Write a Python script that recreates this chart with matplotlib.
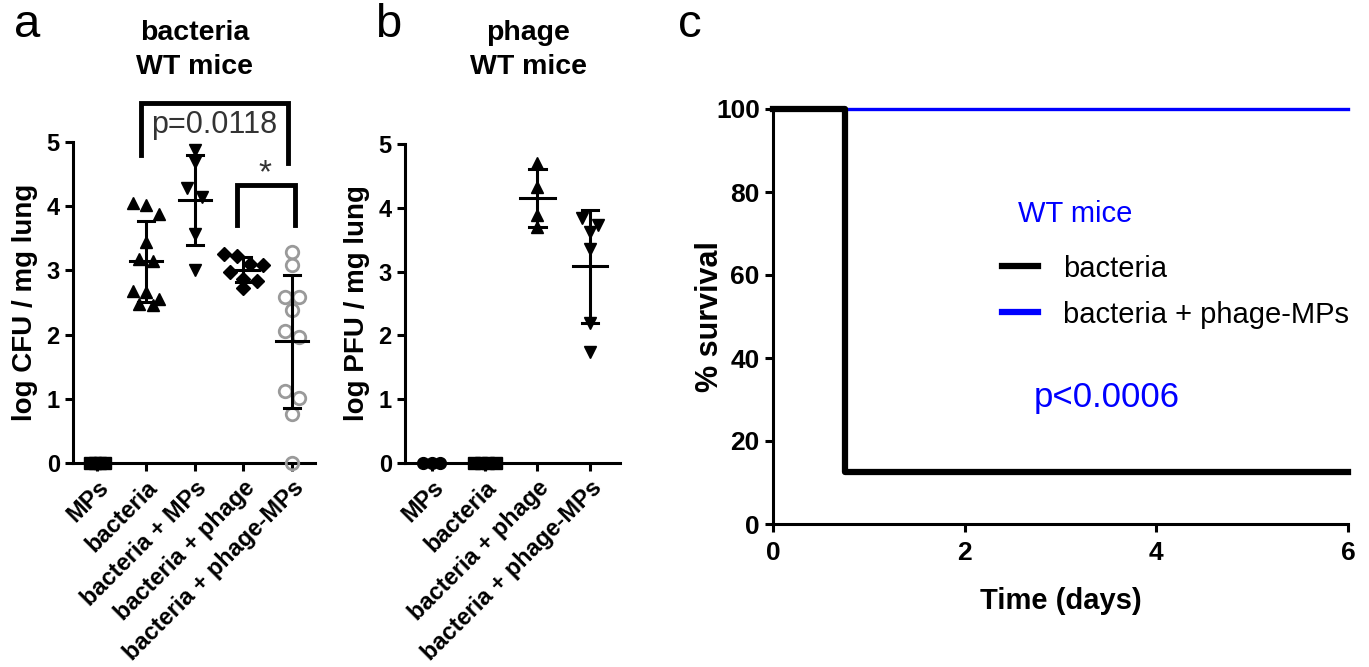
import numpy as np
import matplotlib
matplotlib.use("Agg")
import matplotlib.pyplot as plt
from matplotlib.lines import Line2D

plt.rcParams['font.family'] = ['Liberation Sans', 'DejaVu Sans']

# panel a: log CFU / mg lung, bacteria in WT mice
cfu_groups = ['MPs', 'bacteria', 'bacteria + MPs', 'bacteria + phage', 'bacteria + phage-MPs']
cfu_mps = [0, 0, 0, 0]
cfu_bact = [4.05, 4.02, 3.88, 3.45, 3.17, 3.14, 2.68, 2.66, 2.55, 2.48, 2.46]
cfu_bact_mps = [4.88, 4.69, 4.28, 4.15, 3.57, 3.0]
cfu_bact_phage = [3.26, 3.23, 3.10, 3.08, 2.98, 2.86, 2.84, 2.72]
cfu_bact_phage_mps = [3.29, 3.08, 2.58, 2.58, 2.38, 2.06, 1.96, 1.12, 1.02, 0.76, 0.0]

# panel b: log PFU / mg lung, phage in WT mice
pfu_groups = ['MPs', 'bacteria', 'bacteria + phage', 'bacteria + phage-MPs']
pfu_mps = [0, 0, 0]
pfu_bact = [0, 0, 0, 0]
pfu_bact_phage = [4.70, 4.33, 3.89, 3.70]
pfu_bact_phage_mps = [3.84, 3.73, 3.62, 3.36, 2.19, 1.74]

# panel c: survival
surv_days_bact = [0, 0.75, 6]
surv_pct_bact = [100, 12.5, 12.5]
surv_days_pmps = [0, 6]
surv_pct_pmps = [100, 100]

W, H = 1369, 667
fig = plt.figure(figsize=(W / 100, H / 100), dpi=100)


def swarm(vals, h, w):
    # centre points that sit at about the same height in one row
    v = sorted(vals, reverse=True)
    xs, ys = [], []
    i = 0
    while i < len(v):
        j = i
        while j + 1 < len(v) and v[i] - v[j + 1] < h:
            j += 1
        n = j - i + 1
        for k in range(n):
            xs.append((k - (n - 1) / 2) * w)
            ys.append(v[i + k])
        i = j + 1
    return np.array(xs), np.array(ys)


def style_axes(ax, xsize=17, ysize=17):
    for s in ['top', 'right']:
        ax.spines[s].set_visible(False)
    for s in ['left', 'bottom']:
        ax.spines[s].set_linewidth(2.2)
    ax.tick_params(width=2.2, length=6)
    ax.tick_params(axis='x', labelsize=xsize)
    ax.tick_params(axis='y', labelsize=ysize)
    for lab in ax.get_yticklabels() + ax.get_xticklabels():
        lab.set_fontweight('bold')


def dot_panel(ax, groups, specs, ylabel):
    for i, (vals, st) in enumerate(specs):
        dx, yy = swarm(vals, 0.18, st['w'])
        ax.plot(i + dx, yy, linestyle='none', marker=st['m'], ms=st['ms'],
                mfc=st['fc'], mec=st['ec'], mew=st.get('mew', 1), clip_on=False, zorder=3)
        if st.get('bar', True):
            mu = np.mean(vals)
            sd = np.std(vals, ddof=1)
            ax.plot([i, i], [mu - sd, mu + sd], color='black', lw=2.2, zorder=4, solid_capstyle='butt')
            ax.plot([i - st['mw'], i + st['mw']], [mu, mu], color='black', lw=2.2, zorder=4)
            for y in (mu - sd, mu + sd):
                ax.plot([i - st['cw'], i + st['cw']], [y, y], color='black', lw=2.2, zorder=4)
    ax.set_ylim(0, 5)
    ax.set_yticks([0, 1, 2, 3, 4, 5])
    ax.set_xticks(range(len(groups)))
    ax.set_xticklabels(groups, rotation=45, ha='right', rotation_mode='anchor')
    ax.set_ylabel(ylabel, fontsize=20, fontweight='bold', labelpad=6)
    style_axes(ax)


blk = dict(fc='black', ec='black')

# ---- panel a
axA = fig.add_axes([73 / W, 1 - 463 / H, (315 - 73) / W, (463 - 142) / H])
specsA = [
    (cfu_mps, dict(m='s', ms=8.5, w=0.1, bar=False, **blk)),
    (cfu_bact, dict(m='^', ms=9, w=0.27, mw=0.33, cw=0.16, **blk)),
    (cfu_bact_mps, dict(m='v', ms=9, w=0.3, mw=0.33, cw=0.16, **blk)),
    (cfu_bact_phage, dict(m='D', ms=7.5, w=0.27, mw=0.33, cw=0.16, **blk)),
    (cfu_bact_phage_mps, dict(m='o', ms=9, w=0.3, mw=0.33, cw=0.16, fc='none', ec='#9a9a9a', mew=2)),
]
dot_panel(axA, cfu_groups, specsA, 'log CFU / mg lung')
axA.set_xlim(-0.5, 4.47)

# significance brackets
axA.plot([0.9, 0.9, 3.92, 3.92], [4.8, 5.6, 5.6, 4.67], color='black', lw=3.5, clip_on=False,
         solid_joinstyle='miter')
axA.text(2.4, 5.27, 'p=0.0118', ha='center', va='center', fontsize=22, color='#333333')
axA.plot([2.87, 2.87, 4.06, 4.06], [3.7, 4.33, 4.33, 3.7], color='black', lw=3.5, clip_on=False,
         solid_joinstyle='miter')
axA.text(3.45, 4.5, '*', ha='center', va='center', fontsize=24, color='#333333')

fig.text(27 / W, 1 - 25 / H, 'a', fontsize=34, ha='center', va='center')
fig.text(195 / W, 1 - 50 / H, 'bacteria\nWT mice', fontsize=20.5, fontweight='bold',
         ha='center', va='center', linespacing=1.45)

# ---- panel b
axB = fig.add_axes([405 / W, 1 - 463 / H, (620 - 405) / W, (463 - 144) / H])
specsB = [
    (pfu_mps, dict(m='o', ms=8.5, w=0.16, bar=False, **blk)),
    (pfu_bact, dict(m='s', ms=8.5, w=0.14, bar=False, **blk)),
    (pfu_bact_phage, dict(m='^', ms=9, w=0.3, mw=0.33, cw=0.16, **blk)),
    (pfu_bact_phage_mps, dict(m='v', ms=9, w=0.3, mw=0.33, cw=0.16, **blk)),
]
dot_panel(axB, pfu_groups, specsB, 'log PFU / mg lung')
axB.set_xlim(-0.51, 3.57)

fig.text(388 / W, 1 - 25 / H, 'b', fontsize=34, ha='center', va='center')
fig.text(528 / W, 1 - 50 / H, 'phage\nWT mice', fontsize=20.5, fontweight='bold',
         ha='center', va='center', linespacing=1.45)

# ---- panel c
axC = fig.add_axes([773 / W, 1 - 524 / H, (1348 - 773) / W, (524 - 109) / H])
axC.step(surv_days_pmps, surv_pct_pmps, where='post', color='#0000ff', lw=2.4,
         clip_on=False, zorder=2)
axC.step(surv_days_bact, surv_pct_bact, where='post', color='black', lw=4.5,
         clip_on=False, zorder=3)
axC.set_xlim(0, 6)
axC.set_ylim(0, 100)
axC.set_xticks([0, 2, 4, 6])
axC.set_yticks([0, 20, 40, 60, 80, 100])
style_axes(axC, xsize=19, ysize=19)
axC.tick_params(axis='x', pad=6)
axC.set_xlabel('Time (days)', fontsize=21, fontweight='bold', labelpad=16)
axC.set_ylabel('% survival', fontsize=22, fontweight='bold')
axC.yaxis.set_label_coords(-0.083, 0.5)
handles = [Line2D([], [], color='black', lw=4.5), Line2D([], [], color='#0000ff', lw=4.5)]
axC.legend(handles, ['bacteria', 'bacteria + phage-MPs'], loc='center left',
           bbox_to_anchor=(0.398, 0.56), frameon=False, fontsize=21, handlelength=1.25,
           handletextpad=0.85, labelspacing=0.62, borderaxespad=0, borderpad=0)
axC.text(0.525, 0.747, 'WT mice', transform=axC.transAxes, fontsize=21, color='#0000ff',
         ha='center', va='center')
axC.text(0.581, 0.304, 'p<0.0006', transform=axC.transAxes, fontsize=25, color='#0000ff',
         ha='center', va='center')
fig.text(690 / W, 1 - 25 / H, 'c', fontsize=34, ha='center', va='center')

fig.savefig('out.png', dpi=100)
